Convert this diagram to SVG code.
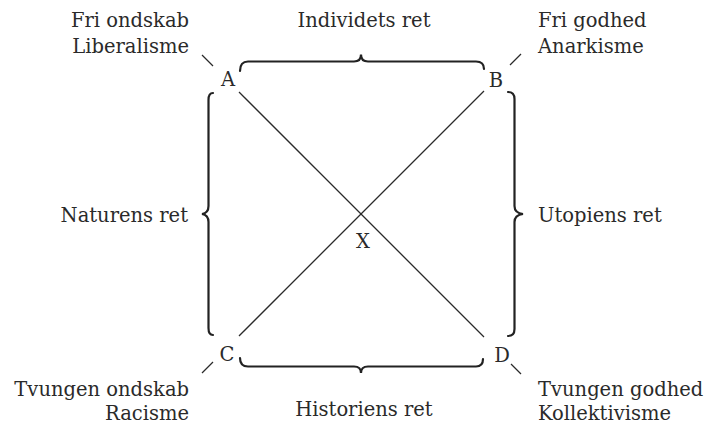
<svg xmlns="http://www.w3.org/2000/svg" width="706" height="425" viewBox="0 0 706 425">
<style>
text{font-family:"DejaVu Serif","Liberation Serif",serif;font-size:19.5px;fill:#2a2a2a}
.e{text-anchor:end}.m{text-anchor:middle}
.ln{stroke:#2a2a2a;stroke-width:1.3;fill:none}
.br{stroke:#222;stroke-width:2.2;fill:none;stroke-linecap:round}
</style>
<rect width="706" height="425" fill="#fff"/>
<g id="connectors">
<line class="ln" x1="239" y1="92" x2="484" y2="337"/>
<line class="ln" x1="484" y1="91" x2="239" y2="336"/>
<line class="ln" x1="202" y1="55" x2="213" y2="66"/>
<line class="ln" x1="510" y1="65" x2="521" y2="54"/>
<line class="ln" x1="213" y1="362" x2="202" y2="373"/>
<line class="ln" x1="511" y1="364" x2="521" y2="374"/>
</g>
<g id="brace-top"><path class="br" d="M240,71 Q240,61.5 248,61.5 L354,61.5 Q361,61.5 361,54.5 Q361,61.5 368,61.5 L476,61.5 Q484,61.5 484,69"/><text class="m" x="364" y="27">Individets ret</text></g>
<g id="brace-bottom"><path class="br" d="M240,358 Q240,366.5 248,366.5 L354,366.5 Q361,366.5 361,373 Q361,366.5 368,366.5 L476,366.5 Q483,366.5 483,359"/><text class="m" x="364" y="416">Historiens ret</text></g>
<g id="brace-left"><path class="br" d="M213,93 Q208.5,93 208.5,100 L208.5,206 Q208.5,213 202,214 Q208.5,215 208.5,222 L208.5,328 Q208.5,335 213,335"/><text class="e" x="188" y="222">Naturens ret</text></g>
<g id="brace-right"><path class="br" d="M508,92 Q514.5,92 514.5,99 L514.5,206 Q514.5,213 523,214 Q514.5,215 514.5,222 L514.5,329 Q514.5,336 508,336"/><text x="538" y="222">Utopiens ret</text></g>
<g id="node-A"><text class="m" x="228" y="86">A</text><text class="e" x="189" y="27">Fri ondskab</text><text class="e" x="189" y="53">Liberalisme</text></g>
<g id="node-B"><text class="m" x="496" y="87">B</text><text x="538" y="27">Fri godhed</text><text x="538" y="53">Anarkisme</text></g>
<g id="node-C"><text class="m" x="227" y="361">C</text><text class="e" x="189" y="396">Tvungen ondskab</text><text class="e" x="189" y="420">Racisme</text></g>
<g id="node-D"><text class="m" x="502" y="362">D</text><text x="538" y="396">Tvungen godhed</text><text x="538" y="420">Kollektivisme</text></g>
<g id="node-X"><text class="m" x="363" y="248">X</text></g>
</svg>
